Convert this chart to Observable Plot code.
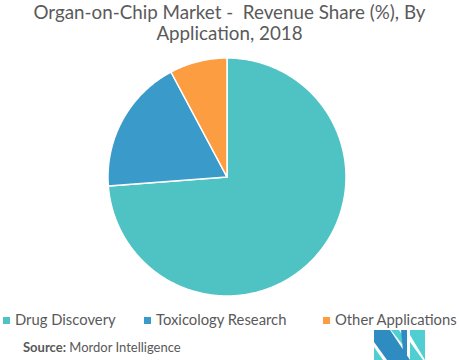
<!DOCTYPE html>
<html>
<head>
<meta charset="utf-8">
<script src="https://cdn.jsdelivr.net/npm/d3@7"></script>
<script src="https://cdn.jsdelivr.net/npm/@observablehq/plot@0.6"></script>
<style>
  html, body { margin: 0; padding: 0; background: #fff; }
  body { width: 459px; height: 360px; position: relative; overflow: hidden; font-family: Lato, "Open Sans", sans-serif; color: #595959; }
  #title { position: absolute; left: 0; top: 1px; width: 459px; text-align: center; font-size: 18.8px; line-height: 21px; color: #5a5a5a; }
  #chart { position: absolute; left: 0; top: 52px; }
  #legend { position: absolute; left: 0; top: 310px; width: 459px; font-size: 14.8px; color: #595959; }
  .item { position: absolute; top: 0; white-space: nowrap; }
  .sw { display: inline-block; width: 7px; height: 7px; margin-right: 5px; vertical-align: 1px; }
  #source { position: absolute; left: 23px; top: 339px; font-size: 13px; color: #595959; }
  #logo { position: absolute; left: 374px; top: 330px; }
</style>
</head>
<body>
<div id="title">Organ-on-Chip Market -&nbsp; Revenue Share (%), By<br>Application, 2018</div>
<div id="chart"></div>
<div id="legend"></div>
<div id="source"><b>Source:</b> Mordor Intelligence</div>
<svg id="logo" width="52" height="30" viewBox="0 0 52 30">
  <polygon points="0,0 16,0 36,30 13,30 0,12" fill="#2f8cc0"/>
  <polygon points="0,17 0,30 9,30" fill="#4fcfd2"/>
  <polygon points="17,0 25,0 31,9 28,14" fill="#4fcfd2"/>
  <polygon points="27,0 33,0 33,30 29,30 29,22" fill="#2f8cc0"/>
  <polygon points="36,0 51,0 51,30 36,5" fill="#4fcfd2"/>
  <polygon points="36,12 49,30 36,30" fill="#4fcfd2"/>
</svg>
<script>
const categories = ["Drug Discovery", "Toxicology Research", "Other Applications"];
const shares = [73.8, 18.4, 7.8];
const colors = ["#4fc2c4", "#3a9bcb", "#fd9d42"];

// build wedge outlines from the data with d3.pie
const pie = d3.pie().sort(null).startAngle(0).endAngle(2 * Math.PI);
const arcs = pie(shares);
const rows = [];
arcs.forEach((a, i) => {
  const n = Math.max(2, Math.ceil((a.endAngle - a.startAngle) / (Math.PI / 360)));
  for (let k = 0; k <= n; k++) {
    const t = a.startAngle + (a.endAngle - a.startAngle) * k / n;
    rows.push({cat: categories[i], x: Math.sin(t), y: Math.cos(t)});
  }
});

const cx = 227, cy = 125, r = 119;
const chart = Plot.plot({
  width: 459,
  height: 250,
  margin: 0,
  x: {domain: [-1, 1], range: [cx - r, cx + r], axis: null},
  y: {domain: [-1, 1], range: [cy + r, cy - r], axis: null},
  color: {domain: categories, range: colors},
  marks: [
    Plot.area(rows, {
      x1: 0, y1: 0, x2: "x", y2: "y",
      z: "cat", fill: "cat",
      stroke: "white", strokeWidth: 1.5, strokeLinejoin: "round",
      curve: "linear"
    })
  ]
});
document.getElementById("chart").appendChild(chart);

const legend = document.getElementById("legend");
const lx = [3, 144, 323];
categories.forEach((c, i) => {
  const d = document.createElement("div");
  d.className = "item";
  d.style.left = lx[i] + "px";
  d.innerHTML = `<span class="sw" style="background:${colors[i]}"></span>${c}`;
  legend.appendChild(d);
});
</script>
</body>
</html>
